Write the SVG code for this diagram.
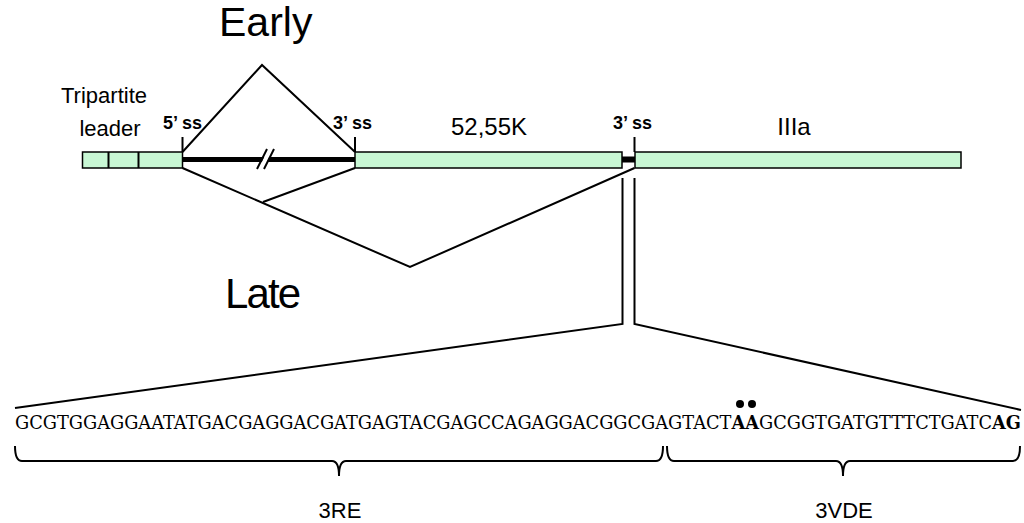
<svg xmlns="http://www.w3.org/2000/svg" width="1024" height="523" viewBox="0 0 1024 523">
<style>
.exon{fill:#c8f7d4;stroke:#000;stroke-width:1.5}
.ln{fill:none;stroke:#000;stroke-width:2}
.lbl{font-family:"Liberation Sans",Arial,sans-serif;fill:#000}
.ss{font-family:"Liberation Sans",Arial,sans-serif;font-weight:bold;font-size:18px;fill:#000}
.seq{font-family:"DejaVu Serif","Liberation Serif",serif;font-size:18.5px;fill:#000}
</style>
<rect width="1024" height="523" fill="#fff"/>
<text class="lbl" x="219" y="36" font-size="41">Early</text>
<text class="lbl" x="225" y="308" font-size="42" textLength="76">Late</text>
<text class="lbl" x="104" y="103" font-size="22" text-anchor="middle">Tripartite</text>
<text class="lbl" x="110" y="136" font-size="22" text-anchor="middle">leader</text>
<g id="intron">
<line x1="182" y1="159.5" x2="356" y2="159.5" stroke="#000" stroke-width="5"/>
<polygon points="258,170 268,149 273,149 263,170" fill="#fff"/>
<line x1="257" y1="169" x2="267" y2="149" stroke="#000" stroke-width="2"/>
<line x1="264" y1="169" x2="274" y2="149" stroke="#000" stroke-width="2"/>
<rect x="621" y="156.5" width="14" height="6" fill="#000"/>
</g>
<g id="leader">
<rect class="exon" x="82.5" y="152" width="100" height="16"/>
<line x1="108.5" y1="152" x2="108.5" y2="168" stroke="#000" stroke-width="2"/>
<line x1="138.5" y1="152" x2="138.5" y2="168" stroke="#000" stroke-width="2"/>
</g>
<g id="exon-52-55K">
<rect class="exon" x="355" y="152" width="267" height="16"/>
<text class="lbl" x="489" y="135" font-size="24" text-anchor="middle">52,55K</text>
</g>
<g id="exon-IIIa">
<rect class="exon" x="635" y="152" width="326" height="16"/>
<text class="lbl" x="794" y="135" font-size="24" text-anchor="middle">IIIa</text>
</g>
<g id="ss5">
<line class="ln" x1="182.5" y1="137" x2="182.5" y2="152"/>
<text class="ss" x="163" y="129">5’ ss</text>
</g>
<g id="ss3a">
<line class="ln" x1="355" y1="137" x2="355" y2="152"/>
<text class="ss" x="333" y="129">3’ ss</text>
</g>
<g id="ss3b">
<line class="ln" x1="634.5" y1="137" x2="634.5" y2="152"/>
<text class="ss" x="613" y="129">3’ ss</text>
</g>
<g id="connectors">
<polyline class="ln" points="182.5,152 262,65 355,152"/>
<polyline class="ln" points="182.5,168 410,267 634.5,168"/>
<line class="ln" x1="355" y1="168" x2="263" y2="202"/>
<polyline class="ln" points="622.5,178 622.5,324 15,408"/>
<polyline class="ln" points="634.5,178 634.5,324 1021,410"/>
<path class="ln" d="M15,446 Q15,461 22,461 H332 Q339,461 339,476 Q339,461 346,461 H656 Q663,461 663,446"/>
<path class="ln" d="M667,446 Q667,461 674,461 H836 Q843,461 843,476 Q843,461 850,461 H1013 Q1020,461 1020,446"/>
</g>
<g id="sequence">
<text class="seq" x="15" y="429" textLength="1006" lengthAdjust="spacingAndGlyphs">GCGTGGAGGAATATGACGAGGACGATGAGTACGAGCCAGAGGACGGCGAGTACT<tspan font-weight="bold">AA</tspan>GCGGTGATGTTTCTGATC<tspan font-weight="bold">AG</tspan></text>
<circle cx="740" cy="404" r="4"/>
<circle cx="752" cy="404" r="4"/>
</g>
<g id="labels">
<text class="lbl" x="340" y="518" font-size="22" text-anchor="middle">3RE</text>
<text class="lbl" x="844" y="518" font-size="22" text-anchor="middle">3VDE</text>
</g>
</svg>
